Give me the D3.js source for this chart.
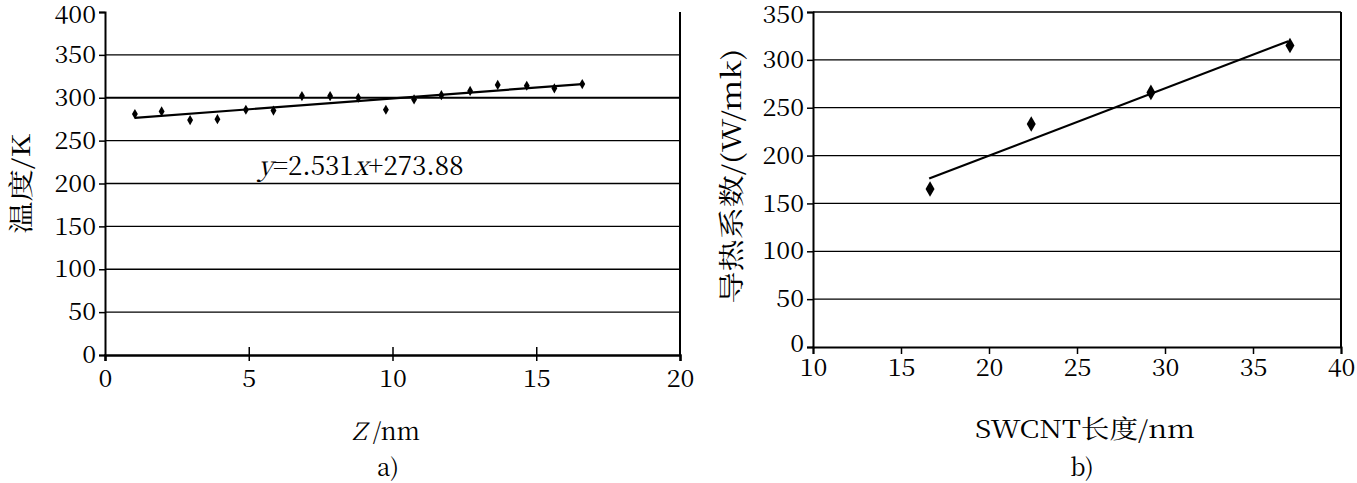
<!DOCTYPE html>
<html>
<head>
    <meta charset="utf-8">
    <title>Temperature profile and conductivity</title>
    <style>body{margin:0}</style>
</head>
<body>
    <div id="chart"></div>

    <script src="https://cdnjs.cloudflare.com/ajax/libs/d3/7.8.5/d3.min.js"></script>
    <script>
    // panel a) temperature along the tube
    const zValues = [1.04, 1.97, 2.96, 3.91, 4.9, 5.86, 6.85, 7.83, 8.81, 9.77, 10.75, 11.7, 12.7, 13.66, 14.67, 15.63, 16.6];
    const tempValues = [281, 284, 274, 275, 286, 285, 302, 302, 300, 286, 298, 303, 308, 315, 314, 311, 316];
    const fitA = [2.531, 273.88];          // slope, intercept
    const xTicksA = [0, 5, 10, 15, 20];
    const yTicksA = [0, 50, 100, 150, 200, 250, 300, 350, 400];

    // panel b) conductivity vs length
    const lenValues = [16.65, 22.4, 29.2, 37.1];
    const kValues = [165, 233, 266, 315];
    const fitB = [[16.6, 176], [37.0, 319.5]];  // trend line ends
    const xTicksB = [10, 15, 20, 25, 30, 35, 40];
    const yTicksB = [0, 50, 100, 150, 200, 250, 300, 350];

    // this serif face resolves reliably here, for latin and CJK
    const SERIF = "Noto Serif CJK SC";
    const STRETCH = 1.05;

    const svg = d3.select("#chart").append("svg")
        .attr("width", 1357)
        .attr("height", 483)
        .attr("font-family", SERIF);

    // widen a text a little, like the scanned glyphs
    function widen(sel, k) {
        sel.each(function() {
            const len = this.getComputedTextLength();
            d3.select(this).attr("textLength", len * k).attr("lengthAdjust", "spacingAndGlyphs");
        });
    }

    function styleAxis(g, domainW) {
        g.attr("font-family", SERIF).attr("font-size", 24);
        g.selectAll(".tick text")
            .attr("font-family", SERIF)
            .attr("font-size", 24)
            .attr("fill", "black")
            .call(widen, STRETCH);
        g.select(".domain").attr("stroke-width", domainW);
        g.selectAll(".tick line").attr("stroke-width", 1.5);
    }

    // write a label made of pieces [text, italic]
    function label(g, x, y, parts, rotate, size, len) {
        const t = g.append("text")
            .attr("text-anchor", "middle")
            .attr("font-family", SERIF)
            .attr("font-size", size || 24)
            .attr("fill", "black");
        if (rotate) t.attr("transform", `translate(${x},${y}) rotate(-90)`);
        else t.attr("x", x).attr("y", y);
        parts.forEach(p => {
            const s = t.append("tspan").attr("font-family", SERIF).text(p[0]);
            if (p[1]) s.attr("font-style", "italic");
        });
        if (len) t.attr("textLength", len).attr("lengthAdjust", "spacingAndGlyphs");
        return t;
    }

    // ---------- panel a ----------
    const xA = d3.scaleLinear().domain([0, 20]).range([105, 680]);
    const yA = d3.scaleLinear().domain([0, 400]).range([355, 12]);
    const gA = svg.append("g");

    // gridlines (no line at the top value)
    gA.selectAll("line.grid")
        .data(yTicksA.filter(d => d > 0 && d < 400))
        .enter().append("line")
        .attr("class", "grid")
        .attr("x1", xA(0)).attr("x2", xA(20))
        .attr("y1", d => yA(d)).attr("y2", d => yA(d))
        .attr("stroke", "black")
        .attr("stroke-width", d => d === 300 ? 2.2 : 1.3);

    // right border
    gA.append("line")
        .attr("x1", xA(20)).attr("x2", xA(20))
        .attr("y1", yA(400)).attr("y2", yA(0))
        .attr("stroke", "black").attr("stroke-width", 2);

    // y axis
    gA.append("g")
        .attr("transform", `translate(${xA(0)},0)`)
        .call(d3.axisLeft(yA).tickValues(yTicksA).tickSize(6).tickPadding(3))
        .call(g => styleAxis(g, 2))
        .call(g => g.selectAll(".tick text").filter(d => d === 400).attr("dy", "0.42em"));

    // x axis, inner ticks cross the line
    gA.append("g")
        .attr("transform", `translate(0,${yA(0)})`)
        .call(d3.axisBottom(xA).tickValues(xTicksA).tickSize(6).tickPadding(9))
        .call(g => styleAxis(g, 2.5))
        .call(g => g.selectAll(".tick line").attr("y1", d => (d > 0 && d < 20) ? -8 : 0));

    // trend line from first to last point
    const zExt = d3.extent(zValues);
    gA.append("line")
        .attr("x1", xA(zExt[0])).attr("y1", yA(fitA[0] * zExt[0] + fitA[1]))
        .attr("x2", xA(zExt[1])).attr("y2", yA(fitA[0] * zExt[1] + fitA[1]))
        .attr("stroke", "black").attr("stroke-width", 2.2);

    gA.selectAll("path.pt")
        .data(zValues)
        .enter().append("path")
        .attr("class", "pt")
        .attr("d", d3.symbol(d3.symbolDiamond).size(30))
        .attr("transform", (d, i) => `translate(${xA(d)},${yA(tempValues[i])})`)
        .attr("fill", "black");

    // equation label
    label(gA, 361, 175, [["y", true], ["=2.531"], ["x", true], ["+273.88"]], false, 26);

    // axis titles
    label(gA, 386, 440, [["Z", true], [" /nm"]]);
    label(gA, 388, 476, [["a)"]]);
    label(gA, 30, 184, [["温度/K"]], true, 25, 100);

    // ---------- panel b ----------
    const xB = d3.scaleLinear().domain([10, 40]).range([813, 1341]);
    const yB = d3.scaleLinear().domain([0, 350]).range([347, 12]);
    const gB = svg.append("g");

    gB.selectAll("line.grid")
        .data(yTicksB.filter(d => d > 0))
        .enter().append("line")
        .attr("class", "grid")
        .attr("x1", xB(10)).attr("x2", xB(40))
        .attr("y1", d => yB(d)).attr("y2", d => yB(d))
        .attr("stroke", "black")
        .attr("stroke-width", 1.3);

    gB.append("line")
        .attr("x1", xB(40)).attr("x2", xB(40))
        .attr("y1", yB(350)).attr("y2", yB(0))
        .attr("stroke", "black").attr("stroke-width", 2);

    gB.append("g")
        .attr("transform", `translate(${xB(10)},0)`)
        .call(d3.axisLeft(yB).tickValues(yTicksB).tickSize(6).tickPadding(3))
        .call(g => styleAxis(g, 2))
        .call(g => g.selectAll(".tick text").filter(d => d === 350).attr("dy", "0.42em"))
        .call(g => g.selectAll(".tick text").filter(d => d === 0).attr("dy", "0.2em"));

    gB.append("g")
        .attr("transform", `translate(0,${yB(0)})`)
        .call(d3.axisBottom(xB).tickValues(xTicksB).tickSize(7).tickPadding(5))
        .call(g => styleAxis(g, 2));

    gB.append("line")
        .attr("x1", xB(fitB[0][0])).attr("y1", yB(fitB[0][1]))
        .attr("x2", xB(fitB[1][0])).attr("y2", yB(fitB[1][1]))
        .attr("stroke", "black").attr("stroke-width", 2.2);

    gB.selectAll("path.pt")
        .data(lenValues)
        .enter().append("path")
        .attr("class", "pt")
        .attr("d", d3.symbol(d3.symbolDiamond).size(70))
        .attr("transform", (d, i) => `translate(${xB(d)},${yB(kValues[i])})`)
        .attr("fill", "black");

    label(gB, 1085, 438, [["SWCNT长度/nm"]], false, 25, 220);
    label(gB, 1082, 476, [["b)"]]);
    label(gB, 741, 176, [["导热系数/(W/mk)"]], true, 26, 255);
    </script>
</body>
</html>
